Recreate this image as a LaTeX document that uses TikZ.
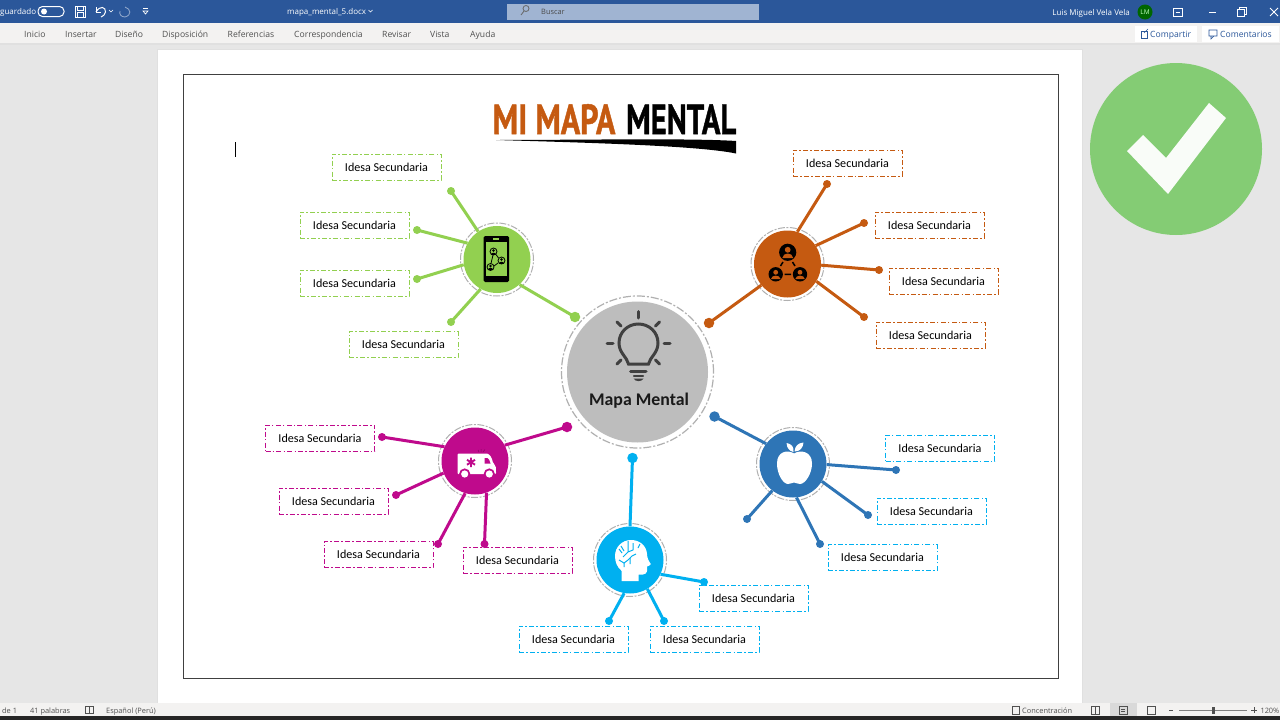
\documentclass[tikz,border=0pt]{standalone}
\usepackage{fontspec}
\setmainfont{Carlito}
\newfontfamily\uifont{Open Sans}
\newfontfamily\titlefont[BoldFeatures={FakeBold=1.2}]{PT Sans}
\definecolor{wordblue}{HTML}{2B579A}
\definecolor{ribbon}{HTML}{F3F2F1}
\definecolor{canvas}{HTML}{E6E6E6}
\definecolor{cgreen}{HTML}{92D050}
\definecolor{corange}{HTML}{C55A11}
\definecolor{cmag}{HTML}{BF0A8C}
\definecolor{cblue}{HTML}{2E75B6}
\definecolor{ccyan}{HTML}{00B0F0}
\definecolor{cgray}{HTML}{BDBDBD}
\definecolor{ringgray}{HTML}{B0B0B0}
\definecolor{darkicon}{HTML}{404040}
\definecolor{titleor}{HTML}{C55A11}
\definecolor{checkgreen}{HTML}{84CC74}
\definecolor{uitext}{HTML}{505050}
\tikzset{
 hub/.style={circle,fill=#1,draw=none,minimum size=67pt,inner sep=0pt},
 hubring/.style={circle,draw=ringgray,line width=1pt,fill=none,minimum size=73pt,inner sep=0pt,dash pattern=on 7pt off 1.5pt on 2pt off 1.5pt},
 ideabox/.style={draw=#1,line width=.8pt,dash pattern=on 5pt off 2.2pt on 1.5pt off 2.2pt,minimum width=109pt,minimum height=26pt,inner sep=0pt,font=\fontsize{12.1}{14}\selectfont,text=black},
 leaf/.style={circle,fill=#1,draw=none,minimum size=8pt,inner sep=0pt},
 mainleaf/.style={circle,fill=#1,draw=none,minimum size=10.5pt,inner sep=0pt},
 conn/.style={draw=#1,line width=3pt},
 tab/.style={font=\uifont\fontsize{8.6}{10}\selectfont,text=uitext,inner sep=0pt,anchor=base west},
 bartxt/.style={font=\uifont\fontsize{8}{10}\selectfont,text=white,inner sep=0pt,anchor=base west},
 stat/.style={font=\uifont\fontsize{7.4}{9}\selectfont,text=uitext,inner sep=0pt,anchor=base west},
 titletxt/.style={font=\titlefont\bfseries\fontsize{42}{44}\selectfont,inner sep=0pt,anchor=base west},
}
\begin{document}
\begin{tikzpicture}[x=1pt,y=-1pt]
\useasboundingbox (0,0) rectangle (1280,720);
% application chrome
\fill[canvas] (0,0) rectangle (1280,720);
\fill[wordblue] (0,0) rectangle (1280,23);
\fill[ribbon] (0,23) rectangle (1280,43);
\fill[black!12] (0,43) rectangle (1280,45);
\fill[ribbon] (0,703) rectangle (1280,716);
\fill[black!85] (0,716) rectangle (1280,720);
\fill[black!12] (157,49) rectangle (1083,703);
\fill[white] (158,50) rectangle (1082,703);
% search box
\fill[wordblue!45!white] (507,4) rectangle (759,20);
\node[bartxt,text=black!70,font=\uifont\fontsize{7.4}{9}\selectfont] (tBuscar) at (541,14.5) {Buscar};
\draw[black!60,line width=.8pt] (526,8.5) circle (3);
\draw[black!60,line width=.8pt] (524,11) -- (521,15);
% title bar
\node[bartxt] (tSaved) at (0,14.5) {guardado};
\draw[white,line width=1pt,rounded corners=4.5pt] (38,6.5) rectangle (64,16.5);
\fill[white] (44,11.5) circle (3);
\draw[white,line width=.9pt] (75,6) rectangle (85,17);
\draw[white,line width=.8pt] (77,6) rectangle (83,10) (77,17) rectangle (83,12.5);
\draw[white,line width=1pt] (96,7) -- (96,12) -- (101,12);
\draw[white,line width=1pt] (96,12) .. controls (100,5) and (106,7) .. (105.5,12) .. controls (105,15) and (103,16) .. (101,17);
\draw[white,line width=.7pt] (109,10) -- (111,12) -- (113,10);
\draw[white!50!wordblue,line width=.8pt] (125,7) .. controls (131,9) and (132,15) .. (125,17) .. controls (121,17) and (119,14) .. (120,11);
\draw[white,line width=.7pt] (143,8) -- (148,8);
\draw[white,line width=.7pt] (143,11) -- (145.5,14) -- (148,11) -- cycle;
\node[bartxt] (tDoc) at (287,14) {mapa\_mental\_5.docx};
\draw[white,line width=.7pt] (368.5,10) -- (370.5,12) -- (372.5,10);
\node[bartxt,anchor=base east] (tUser) at (1130,15) {Luis Miguel Vela Vela};
\node[circle,fill=green!40!black,minimum size=15pt,inner sep=0pt,text=white!75!green,font=\uifont\fontsize{6.5}{8}\selectfont] (tLM) at (1145,12) {LM};
\draw[white,line width=.8pt] (1173,8) rectangle (1182,16);
\draw[white,line width=.8pt] (1175.5,12) -- (1179.5,12);
\draw[white,line width=.8pt] (1209,12) -- (1216,12);
\draw[white,line width=.8pt] (1237,9) rectangle (1244,16);
\draw[white,line width=.8pt] (1239,9) -- (1239,7) -- (1246,7) -- (1246,14) -- (1244,14);
\draw[white,line width=.8pt] (1270,8) -- (1278,16) (1278,8) -- (1270,16);
% ribbon tabs
\node[tab] (t1) at (24,37) {Inicio};
\node[tab] (t2) at (65,37) {Insertar};
\node[tab] (t3) at (115,37) {Diseño};
\node[tab] (t4) at (162,37) {Disposición};
\node[tab] (t5) at (227.5,37) {Referencias};
\node[tab] (t6) at (294,37) {Correspondencia};
\node[tab] (t7) at (382,37) {Revisar};
\node[tab] (t8) at (430,37) {Vista};
\node[tab] (t9) at (470,37) {Ayuda};
\fill[white] (1135,26) rectangle (1197,41.5);
\fill[white] (1202,26) rectangle (1279,41.5);
\node[tab,text=wordblue] (tShare) at (1150,37) {Compartir};
\node[tab,text=wordblue] (tComm) at (1220,37) {Comentarios};
\draw[wordblue,line width=.6pt] (1141,31) rectangle (1147,38);
\draw[wordblue,line width=.6pt] (1144,33) -- (1148,29);
\draw[wordblue,line width=.6pt] (1209,30) rectangle (1217,36) (1211,36) -- (1211,39) -- (1214,36);
% status bar
\node[stat] (s1) at (2,713) {de 1};
\node[stat] (s2) at (30,713) {41 palabras};
\draw[uitext,line width=.6pt] (85,706) rectangle (93,713);
\draw[uitext,line width=.6pt] (89,706) -- (89,713);
\node[stat] (s3) at (106,713) {Español (Perú)};
\draw[uitext,line width=.6pt] (1012,706) rectangle (1019,714);
\node[stat] (s4) at (1022,713) {Concentración};
\draw[uitext,line width=.6pt] (1091,706) rectangle (1099,714) (1095,706) -- (1095,714);
\fill[black!15] (1110,703) rectangle (1137,716);
\draw[uitext,line width=.6pt] (1119,706) rectangle (1127,714) (1121,709) -- (1125,709) (1121,711) -- (1125,711);
\draw[uitext,line width=.6pt] (1147,706) rectangle (1155,714);
\draw[uitext,line width=.6pt] (1169,710) -- (1173,710);
\draw[black!50,line width=.6pt] (1179,710) -- (1247,710);
\fill[uitext] (1212,706.5) rectangle (1215,713.5);
\draw[uitext,line width=.6pt] (1251,710) -- (1257,710) (1254,707) -- (1254,713);
\node[stat,anchor=base east] (s5) at (1279.5,713) {120\%};
% check badge
\fill[checkgreen] (1176,149) circle (86);
\fill[white!95!checkgreen] (1127,151) -- (1143,135) -- (1166,158) -- (1209,103) -- (1226,118) -- (1168,194) -- cycle;
% frame and title
\draw[black!75,line width=1pt,fill=white] (183,74.5) rectangle (1058,678);
\draw[black,line width=1pt] (235,142) -- (235,157);
\node[titletxt,text=titleor,xscale=.76] (tt1) at (492.5,134) {MI MAPA};
\node[titletxt,text=black,xscale=.73] (tt2) at (626,134) {MENTAL};
\fill[black] (496,140) .. controls (580,140) and (690,138) .. (736,141) -- (736,153.5) .. controls (700,146) and (600,143) .. (496,140) -- cycle;
% centre
\node[circle,fill=cgray,minimum size=141pt,inner sep=0pt] (c) at (637.5,372) {};
\node[circle,draw=ringgray,line width=1.2pt,minimum size=152pt,inner sep=0pt,dash pattern=on 8pt off 2pt on 2pt off 2pt] (cring) at (637.5,372) {};
\node[font=\bfseries\fontsize{17.8}{20}\selectfont,text=black!90,inner sep=0pt] (ct) at (639,400.5) {Mapa Mental};
% bulb
\begin{scope}[darkicon,line width=3pt,line cap=round]
\draw (628.5,364) .. controls (627,357) and (619,353) .. (619,343) .. controls (619,332) and (628,324) .. (638.3,324) .. controls (649,324) and (658,332) .. (658,343) .. controls (658,353) and (650,357) .. (648.5,364) -- cycle;
\draw (638.3,311.5) -- (638.3,318);
\draw (617,322) -- (621,326) (659.5,322) -- (655.5,326);
\draw (607,343) -- (613,343) (664,343) -- (670,343);
\draw (617,364) -- (621,360) (659.5,364) -- (655.5,360);
\draw (630.5,371) -- (646,371);
\draw[line width=2.4pt] (634,376) -- (643,376);
\end{scope}
\fill[darkicon] (633.5,378.5) -- (643.5,378.5) .. controls (642,382) and (635,382) .. (633.5,378.5) -- cycle;
% hubs
\node[hub=cgreen] (g) at (497,259.5) {};
\node[hubring] (gr) at (497,259.5) {};
\node[hub=corange] (o) at (787.5,264) {};
\node[hubring] (or) at (787.5,264) {};
\node[hub=cmag] (m) at (475,461) {};
\node[hubring] (mr) at (475,461) {};
\node[hub=cblue] (b) at (793,464) {};
\node[hubring] (br) at (793,464) {};
\node[hub=ccyan] (y) at (630,560) {};
\node[hubring] (yr) at (630,560) {};
% leaf ends
\node[mainleaf=cgreen] (g0) at (575,317) {};
\node[leaf=cgreen] (g1) at (451,191) {};
\node[leaf=cgreen] (g2) at (417,230) {};
\node[leaf=cgreen] (g3) at (417,279) {};
\node[leaf=cgreen] (g4) at (451,322) {};
\node[mainleaf=corange] (o0) at (709,323) {};
\node[leaf=corange] (o1) at (827,184) {};
\node[leaf=corange] (o2) at (864,223) {};
\node[leaf=corange] (o3) at (879,270) {};
\node[leaf=corange] (o4) at (864,317) {};
\node[mainleaf=cmag] (m0) at (567,427) {};
\node[leaf=cmag] (m1) at (382,437) {};
\node[leaf=cmag] (m2) at (396,495) {};
\node[leaf=cmag] (m3) at (438,544) {};
\node[leaf=cmag] (m4) at (484.5,544) {};
\node[mainleaf=cblue] (b0) at (714.5,416.5) {};
\node[leaf=cblue] (b1) at (896,470) {};
\node[leaf=cblue] (b2) at (868,515) {};
\node[leaf=cblue] (b3) at (820,544) {};
\node[leaf=cblue] (b4) at (747,519) {};
\node[mainleaf=ccyan] (y0) at (632.5,458) {};
\node[leaf=ccyan] (y1) at (704,582) {};
\node[leaf=ccyan] (y2) at (609,621) {};
\node[leaf=ccyan] (y3) at (664,621) {};
% connectors
\foreach \ang/\a in {-48/g0,124/g1,151/g2,189/g3,241.6/g4} \draw[conn=cgreen] (g.\ang) -- (\a.center);
\foreach \ang/\a in {219/o0,73/o1,33/o2,-2/o3,-31/o4} \draw[conn=corange] (o.\ang) -- (\a.center);
\foreach \ang/\a in {28/m0,155/m1,201/m2,-107/m3,-70/m4} \draw[conn=cmag] (m.\ang) -- (\a.center);
\foreach \ang/\a in {143.5/b0,-1/b1,-31/b2,-84/b3,232/b4} \draw[conn=cblue] (b.\ang) -- (\a.center);
\foreach \ang/\a in {90/y0,-25/y1,-100/y2,-59/y3} \draw[conn=ccyan] (y.\ang) -- (\a.center);
% idea boxes
\node[ideabox=cgreen] (bg1) at (386.5,167) {Idesa Secundaria};
\node[ideabox=cgreen] (bg2) at (354.5,225) {Idesa Secundaria};
\node[ideabox=cgreen] (bg3) at (354.5,283) {Idesa Secundaria};
\node[ideabox=cgreen] (bg4) at (403.5,344.5) {Idesa Secundaria};
\node[ideabox=corange] (bo1) at (847.5,163) {Idesa Secundaria};
\node[ideabox=corange] (bo2) at (929.5,225) {Idesa Secundaria};
\node[ideabox=corange] (bo3) at (943.5,281) {Idesa Secundaria};
\node[ideabox=corange] (bo4) at (930.5,335) {Idesa Secundaria};
\node[ideabox=cmag] (bm1) at (320,438) {Idesa Secundaria};
\node[ideabox=cmag] (bm2) at (333.5,501) {Idesa Secundaria};
\node[ideabox=cmag] (bm3) at (378.5,554.5) {Idesa Secundaria};
\node[ideabox=cmag] (bm4) at (517.5,560) {Idesa Secundaria};
\node[ideabox=ccyan] (bb1) at (940,448) {Idesa Secundaria};
\node[ideabox=ccyan] (bb2) at (931.5,511) {Idesa Secundaria};
\node[ideabox=ccyan] (bb3) at (882.5,557.5) {Idesa Secundaria};
\node[ideabox=ccyan] (by1) at (753.5,598) {Idesa Secundaria};
\node[ideabox=ccyan] (by2) at (573.5,639) {Idesa Secundaria};
\node[ideabox=ccyan] (by3) at (704.5,639) {Idesa Secundaria};
% phone icon
\fill[black,rounded corners=1.5pt] (483.5,236) rectangle (509,282);
\fill[cgreen] (486,241.5) rectangle (506.5,275.5);
\fill[cgreen] (493,238) rectangle (499,239.5);
\begin{scope}[line width=.8pt]
\draw[black] (493.5,251.5) circle (3.5);
\draw[black] (501.5,260.5) circle (3.5);
\draw[black] (490.5,267) circle (3.5);
\draw[black] (493,255) -- (491,263.5) (496,254.5) -- (498.5,258) (494,266) -- (498,263);
\fill[black] (493.5,250.5) circle (1.3) (501.5,259.5) circle (1.3) (490.5,266) circle (1.3);
\fill[black] (491,254.5) .. controls (491,251.5) and (496,251.5) .. (496,254.5) -- cycle;
\fill[black] (499,263.5) .. controls (499,260.5) and (504,260.5) .. (504,263.5) -- cycle;
\fill[black] (488,270) .. controls (488,267) and (493,267) .. (493,270) -- cycle;
\end{scope}
% network icon
\fill[black] (787.7,252.3) circle (8.6) (775.7,274.3) circle (7.2) (800,274.3) circle (7.2);
\fill[corange] (787.7,249.8) circle (2.9) (775.7,272.3) circle (2.4) (800,272.3) circle (2.4);
\fill[corange] (782.3,258) .. controls (783,252) and (792.5,252) .. (793.2,258) -- cycle;
\fill[corange] (771,279) .. controls (771.5,274.5) and (780,274.5) .. (780.5,279) -- cycle;
\fill[corange] (795.3,279) .. controls (795.8,274.5) and (804.3,274.5) .. (804.8,279) -- cycle;
\draw[black,line width=1.5pt] (783,262) -- (780.5,266) (792.5,262) -- (795,266) (784.5,274.3) -- (791,274.3);
% ambulance icon
\fill[white,rounded corners=1pt] (457.5,453.5) -- (486,453.5) .. controls (490,454) and (492,458) .. (493,463) .. controls (496,465) and (496,468) .. (496,474) -- (457.5,474) -- cycle;
\fill[cmag] (484.5,458) -- (487.5,458) .. controls (489,459) and (490,461) .. (490.5,463.5) -- (484.5,463.5) -- cycle;
\fill[cmag] (464.7,474) circle (5.6) (489.3,474) circle (5.6);
\fill[white] (464.7,474) circle (3.6) (489.3,474) circle (3.6);
\draw[cmag,line width=1.9pt] (471,457.5) -- (471,467) (467,459.8) -- (475,464.7) (467,464.7) -- (475,459.8);
\draw[cmag!70!black,line width=.5pt] (481,452) -- (481,449) (483,452) -- (485,449.5) (479,452) -- (478,450);
% apple icon
\fill[white] (794,453.5) .. controls (800,449.5) and (812,451) .. (812,463.5) .. controls (812,474) and (805,484) .. (800,484) .. controls (797,484) and (796,482.5) .. (794,482.5) .. controls (792,482.5) and (791,484) .. (788,484) .. controls (783,484) and (777,474) .. (777,463.5) .. controls (777,451) and (788,449.5) .. (794,453.5) -- cycle;
\fill[white] (786.5,443) .. controls (792,444) and (794,447) .. (793.5,452) .. controls (789,451) and (787,448) .. (786.5,443) -- cycle;
\fill[white] (803.5,442.5) .. controls (803,448) and (800,451.5) .. (794.5,451.5) .. controls (795,446) and (798,443) .. (803.5,442.5) -- cycle;
% head icon
\fill[white] (621.7,581) -- (621.7,571) .. controls (617,567) and (615,562) .. (615,556) .. controls (615,547) and (622,540) .. (631,540) .. controls (640,540) and (646.5,546) .. (647,554) .. controls (647.3,558) and (648,560) .. (650.8,564) .. controls (650.5,565.5) and (648,566) .. (647,566.5) .. controls (647.5,570) and (647.5,574) .. (643,574.5) -- (638.5,574.5) -- (638.5,581) -- cycle;
\begin{scope}[draw=ccyan,line width=1pt]
\draw (628,541) -- (628,552) -- (623,557) (628,552) -- (633,550) (633,543) -- (633,550);
\draw (619,549) -- (622,553) (621,546) -- (624,551);
\draw (619,560) -- (624,563) -- (628,560) -- (632,556) -- (636,554);
\draw (640,544) -- (638,548) (624,563) -- (624,567) (630,558) -- (630,564);
\end{scope}
\end{tikzpicture}
\end{document}
